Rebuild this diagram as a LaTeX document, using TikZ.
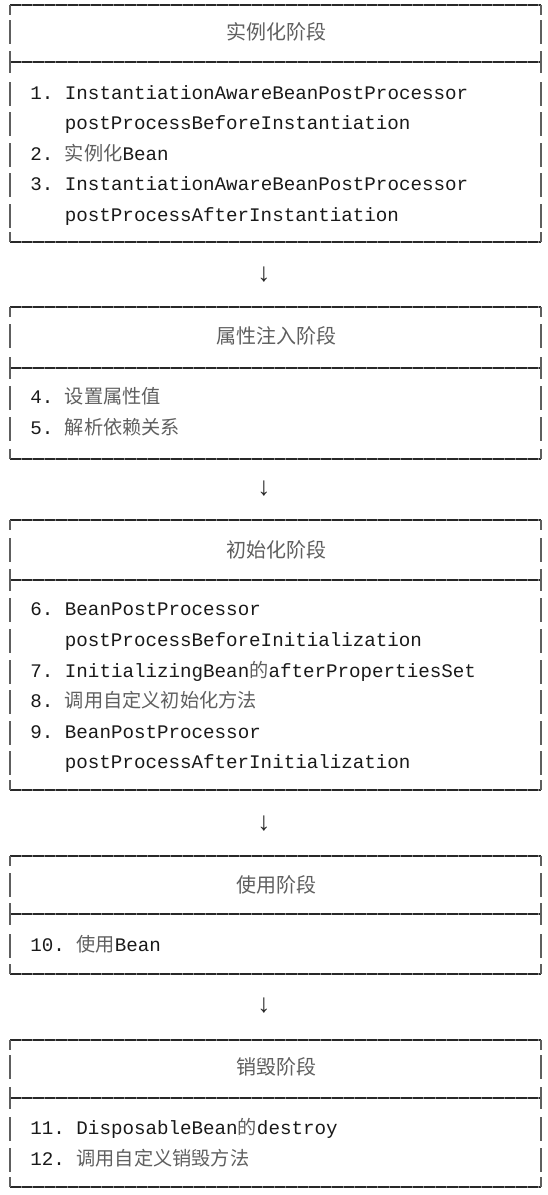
\documentclass[tikz,border=0pt]{standalone}
\usepackage{fontspec}
\setmonofont{Liberation Mono}
\newfontfamily\cjkfont{Noto Sans CJK SC}
\usetikzlibrary{positioning}
\definecolor{frameink}{RGB}{40,40,40}
\definecolor{codeink}{RGB}{25,25,25}
\definecolor{hanink}{RGB}{95,95,95}
\newcommand{\han}[1]{{\cjkfont\color{hanink}#1}}
% one stage frame: top rule, divider rule, bottom rule, row centres
\newcommand{\stageframe}[4]{%
  \draw[rule] (10,#1) -- (541,#1);
  \draw[rule] (10,#2) -- (541,#2);
  \draw[rule] (10,#3) -- (541,#3);
  \foreach \xx in {10,541} {
    \draw[bar] (\xx,#1) -- (\xx,#1+10);
    \draw[bar] (\xx,#2-11) -- (\xx,#2+11);
    \draw[bar] (\xx,#3-10) -- (\xx,#3);
    \foreach \yy in {#4} \draw[bar] (\xx,\yy-12) -- (\xx,\yy+12);
  }}

\begin{document}
\begin{tikzpicture}[x=0.5pt,y=-0.5pt,
    stagehead/.style={font=\fontsize{10}{12}\selectfont\cjkfont, text=hanink, inner sep=0pt},
    item/.style={anchor=west, font=\fontsize{9.6}{12}\selectfont\ttfamily\frenchspacing,
                 text=codeink, inner sep=0pt, text height=7pt, text depth=2pt},
    flowmark/.style={font=\fontsize{13}{14}\selectfont\ttfamily, text=frameink, inner sep=0pt},
    rule/.style={preaction={draw=frameink!55, line width=1pt}, draw=frameink, line width=1pt,
                 dash pattern=on 5.3pt off 0.45pt},
    bar/.style={draw=frameink!75, line width=1pt}]
  \useasboundingbox (0,0) rectangle (547,1195);

  % instantiation
  \stageframe{5}{62}{242}{32,94,124,155,185,216}
  \node[stagehead] (instHead) at (276,32) {实例化阶段};
  \node[item] (inst1)  at (30,94)   {1. InstantiationAwareBeanPostProcessor};
  \node[item] (inst1b) at (64.5,124) {postProcessBeforeInstantiation};
  \node[item] (inst2)  at (30,155)  {2. \han{实例化}Bean};
  \node[item] (inst3)  at (30,185)  {3. InstantiationAwareBeanPostProcessor};
  \node[item] (inst3b) at (64.5,216) {postProcessAfterInstantiation};
  \node[flowmark] (flowA) at (264,275) {↓};

  % property injection
  \stageframe{307}{368}{459}{336,398,429}
  \node[stagehead] (propHead) at (276,336) {属性注入阶段};
  \node[item] (prop4) at (30,398) {4. \han{设置属性值}};
  \node[item] (prop5) at (30,429) {5. \han{解析依赖关系}};
  \node[flowmark] (flowB) at (264,489) {↓};

  % initialization
  \stageframe{520}{580}{790}{550,610,641,672,702,733,763}
  \node[stagehead] (initHead) at (276,550) {初始化阶段};
  \node[item] (init6)  at (30,610)   {6. BeanPostProcessor};
  \node[item] (init6b) at (64.5,641) {postProcessBeforeInitialization};
  \node[item] (init7)  at (30,672)   {7. InitializingBean\han{的}afterPropertiesSet};
  \node[item] (init8)  at (30,702)   {8. \han{调用自定义初始化方法}};
  \node[item] (init9)  at (30,733)   {9. BeanPostProcessor};
  \node[item] (init9b) at (64.5,763) {postProcessAfterInitialization};
  \node[flowmark] (flowC) at (264,824) {↓};

  % usage
  \stageframe{856}{914}{974}{885,946}
  \node[stagehead] (useHead) at (276,885) {使用阶段};
  \node[item] (use10) at (30,946) {10. \han{使用}Bean};
  \node[flowmark] (flowD) at (264,1006) {↓};

  % destruction
  \stageframe{1040}{1098}{1187}{1067,1129,1160}
  \node[stagehead] (destHead) at (276,1067) {销毁阶段};
  \node[item] (dest11) at (30,1129) {11. DisposableBean\han{的}destroy};
  \node[item] (dest12) at (30,1160) {12. \han{调用自定义销毁方法}};
\end{tikzpicture}
\end{document}
